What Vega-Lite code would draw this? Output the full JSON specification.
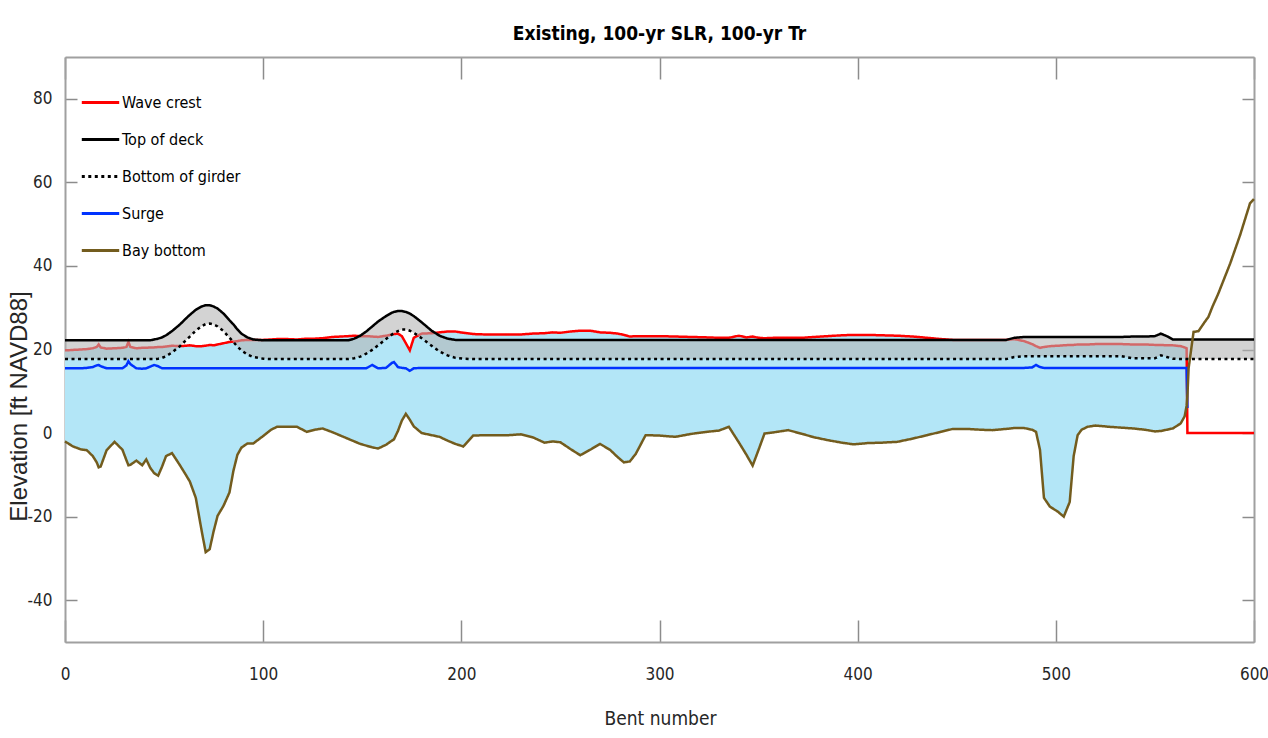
{
  "$schema": "https://vega.github.io/schema/vega-lite/v6.json",
  "width": 1189,
  "height": 585,
  "autosize": {"type": "none"},
  "padding": {"left": 65, "top": 57, "right": 14, "bottom": 96},
  "background": "white",
  "title": {"text": "Existing, 100-yr SLR, 100-yr Tr", "font": "DejaVu Sans Condensed, sans-serif", "fontSize": 19, "fontWeight": "bold", "color": "#000000", "offset": 12, "anchor": "middle"},
  "config": {
    "view": {"stroke": null},
    "axis": {
      "grid": false,
      "domainColor": "#a0a0a0",
      "domainWidth": 2,
      "tickColor": "#8c8c8c",
      "tickWidth": 1.5,
      "labelFont": "DejaVu Sans Condensed, sans-serif",
      "labelFontSize": 17,
      "labelColor": "#262626",
      "labelFlush": false,
      "labelExpr": "'' + datum.value",
      "titleFontWeight": "normal",
      "titleColor": "#262626"
    },
    "axisX": {"tickSize": -22},
    "axisY": {"tickSize": -12},
    "legend": {
      "orient": "none",
      "legendX": 15,
      "legendY": 25,
      "symbolType": "stroke",
      "symbolSize": 1400,
      "symbolStrokeWidth": 3,
      "rowPadding": 8,
      "labelOffset": 1,
      "labelFont": "DejaVu Sans Condensed, sans-serif",
      "labelFontSize": 16,
      "labelColor": "#000000",
      "padding": 0
    }
  },
  "data": {"values": [
    {"bent":0,"wave":19.8,"deck":22.2,"girder":17.7,"surge":15.5,"bay":-2.0},
    {"bent":1,"wave":19.8,"deck":22.2,"girder":17.7,"surge":15.5,"bay":-2.3},
    {"bent":4,"wave":19.9,"deck":22.2,"girder":17.7,"surge":15.5,"bay":-3.2},
    {"bent":8,"wave":20.0,"deck":22.2,"girder":17.7,"surge":15.5,"bay":-3.9},
    {"bent":11,"wave":20.1,"deck":22.2,"girder":17.7,"surge":15.6,"bay":-4.1},
    {"bent":14,"wave":20.3,"deck":22.2,"girder":17.7,"surge":15.8,"bay":-5.5},
    {"bent":16,"wave":20.6,"deck":22.2,"girder":17.7,"surge":16.2,"bay":-7.0},
    {"bent":17,"wave":21.2,"deck":22.2,"girder":17.7,"surge":16.3,"bay":-8.2},
    {"bent":18,"wave":20.5,"deck":22.2,"girder":17.7,"surge":16.0,"bay":-8.0},
    {"bent":21,"wave":20.2,"deck":22.2,"girder":17.7,"surge":15.5,"bay":-4.1},
    {"bent":25,"wave":20.3,"deck":22.2,"girder":17.7,"surge":15.5,"bay":-2.1},
    {"bent":29,"wave":20.4,"deck":22.2,"girder":17.7,"surge":15.5,"bay":-4.0},
    {"bent":31,"wave":20.6,"deck":22.2,"girder":17.7,"surge":16.2,"bay":-6.5},
    {"bent":32,"wave":21.8,"deck":22.2,"girder":17.7,"surge":17.2,"bay":-7.7},
    {"bent":33,"wave":20.6,"deck":22.2,"girder":17.7,"surge":16.5,"bay":-7.6},
    {"bent":36,"wave":20.3,"deck":22.2,"girder":17.7,"surge":15.5,"bay":-6.6},
    {"bent":39,"wave":20.4,"deck":22.2,"girder":17.7,"surge":15.4,"bay":-7.7},
    {"bent":41,"wave":20.4,"deck":22.2,"girder":17.7,"surge":15.5,"bay":-6.3},
    {"bent":43,"wave":20.5,"deck":22.2,"girder":17.7,"surge":15.9,"bay":-8.3},
    {"bent":45,"wave":20.5,"deck":22.4,"girder":17.7,"surge":16.3,"bay":-9.6},
    {"bent":47,"wave":20.6,"deck":22.6,"girder":17.8,"surge":16.0,"bay":-10.2},
    {"bent":49,"wave":20.6,"deck":22.9,"girder":18.0,"surge":15.5,"bay":-8.0},
    {"bent":51,"wave":20.7,"deck":23.4,"girder":18.4,"surge":15.5,"bay":-5.5},
    {"bent":54,"wave":20.9,"deck":24.4,"girder":19.3,"surge":15.5,"bay":-4.8},
    {"bent":58,"wave":20.8,"deck":26.0,"girder":20.8,"surge":15.5,"bay":-7.7},
    {"bent":61,"wave":20.9,"deck":27.4,"girder":22.2,"surge":15.5,"bay":-10.0},
    {"bent":63,"wave":21.0,"deck":28.3,"girder":23.1,"surge":15.5,"bay":-11.6},
    {"bent":66,"wave":20.8,"deck":29.5,"girder":24.5,"surge":15.5,"bay":-15.5},
    {"bent":69,"wave":20.8,"deck":30.3,"girder":25.6,"surge":15.5,"bay":-23.5},
    {"bent":71,"wave":20.9,"deck":30.6,"girder":26.1,"surge":15.5,"bay":-28.5},
    {"bent":73,"wave":21.1,"deck":30.6,"girder":26.2,"surge":15.5,"bay":-27.8},
    {"bent":75,"wave":21.0,"deck":30.3,"girder":26.0,"surge":15.5,"bay":-23.5},
    {"bent":77,"wave":21.2,"deck":29.8,"girder":25.5,"surge":15.5,"bay":-19.8},
    {"bent":80,"wave":21.5,"deck":28.6,"girder":24.4,"surge":15.5,"bay":-17.4},
    {"bent":83,"wave":21.8,"deck":27.0,"girder":22.8,"surge":15.5,"bay":-14.2},
    {"bent":85,"wave":21.9,"deck":26.0,"girder":21.8,"surge":15.5,"bay":-9.0},
    {"bent":87,"wave":22.0,"deck":24.8,"girder":20.7,"surge":15.5,"bay":-5.2},
    {"bent":89,"wave":22.2,"deck":23.8,"girder":19.8,"surge":15.5,"bay":-3.5},
    {"bent":92,"wave":22.3,"deck":22.9,"girder":18.8,"surge":15.5,"bay":-2.5},
    {"bent":95,"wave":22.3,"deck":22.4,"girder":18.2,"surge":15.5,"bay":-2.5},
    {"bent":100,"wave":22.3,"deck":22.2,"girder":17.8,"surge":15.5,"bay":-0.7},
    {"bent":104,"wave":22.4,"deck":22.2,"girder":17.7,"surge":15.5,"bay":0.8},
    {"bent":107,"wave":22.5,"deck":22.2,"girder":17.7,"surge":15.5,"bay":1.5},
    {"bent":112,"wave":22.5,"deck":22.2,"girder":17.7,"surge":15.5,"bay":1.5},
    {"bent":117,"wave":22.4,"deck":22.2,"girder":17.7,"surge":15.5,"bay":1.5},
    {"bent":122,"wave":22.6,"deck":22.2,"girder":17.7,"surge":15.5,"bay":0.3},
    {"bent":126,"wave":22.6,"deck":22.2,"girder":17.7,"surge":15.5,"bay":0.8},
    {"bent":130,"wave":22.7,"deck":22.2,"girder":17.7,"surge":15.5,"bay":1.1},
    {"bent":135,"wave":23.0,"deck":22.2,"girder":17.7,"surge":15.5,"bay":0.2},
    {"bent":139,"wave":23.1,"deck":22.2,"girder":17.7,"surge":15.5,"bay":-0.6},
    {"bent":143,"wave":23.2,"deck":22.2,"girder":17.7,"surge":15.5,"bay":-1.4},
    {"bent":146,"wave":23.3,"deck":22.6,"girder":17.9,"surge":15.5,"bay":-2.0},
    {"bent":149,"wave":23.2,"deck":23.3,"girder":18.3,"surge":15.5,"bay":-2.6},
    {"bent":152,"wave":23.2,"deck":24.3,"girder":19.0,"surge":15.5,"bay":-3.0},
    {"bent":155,"wave":23.1,"deck":25.5,"girder":19.9,"surge":16.3,"bay":-3.4},
    {"bent":158,"wave":23.0,"deck":26.7,"girder":21.0,"surge":15.5,"bay":-3.7},
    {"bent":162,"wave":23.3,"deck":28.0,"girder":22.5,"surge":15.6,"bay":-2.8},
    {"bent":165,"wave":23.6,"deck":28.8,"girder":23.6,"surge":16.8,"bay":-1.8},
    {"bent":166,"wave":23.7,"deck":29.0,"girder":23.9,"surge":17.0,"bay":-1.5},
    {"bent":168,"wave":23.8,"deck":29.2,"girder":24.4,"surge":15.8,"bay":0.5},
    {"bent":170,"wave":23.2,"deck":29.2,"girder":24.8,"surge":15.6,"bay":3.0},
    {"bent":172,"wave":21.5,"deck":29.0,"girder":24.8,"surge":15.5,"bay":4.6},
    {"bent":174,"wave":19.8,"deck":28.6,"girder":24.5,"surge":14.9,"bay":3.2},
    {"bent":176,"wave":22.8,"deck":28.0,"girder":24.0,"surge":15.5,"bay":1.6},
    {"bent":180,"wave":23.8,"deck":26.5,"girder":22.7,"surge":15.6,"bay":0.0},
    {"bent":185,"wave":23.9,"deck":24.5,"girder":20.9,"surge":15.6,"bay":-0.5},
    {"bent":189,"wave":24.1,"deck":23.3,"girder":19.5,"surge":15.6,"bay":-0.9},
    {"bent":193,"wave":24.3,"deck":22.6,"girder":18.6,"surge":15.6,"bay":-1.8},
    {"bent":197,"wave":24.3,"deck":22.3,"girder":18.0,"surge":15.6,"bay":-2.6},
    {"bent":201,"wave":24.0,"deck":22.3,"girder":17.8,"surge":15.6,"bay":-3.2},
    {"bent":206,"wave":23.7,"deck":22.3,"girder":17.7,"surge":15.6,"bay":-0.6},
    {"bent":212,"wave":23.6,"deck":22.3,"girder":17.7,"surge":15.6,"bay":-0.5},
    {"bent":218,"wave":23.6,"deck":22.3,"girder":17.7,"surge":15.6,"bay":-0.5},
    {"bent":224,"wave":23.6,"deck":22.3,"girder":17.7,"surge":15.6,"bay":-0.5},
    {"bent":230,"wave":23.6,"deck":22.3,"girder":17.7,"surge":15.6,"bay":-0.3},
    {"bent":236,"wave":23.8,"deck":22.3,"girder":17.7,"surge":15.6,"bay":-1.0},
    {"bent":242,"wave":23.9,"deck":22.3,"girder":17.7,"surge":15.6,"bay":-2.3},
    {"bent":246,"wave":24.1,"deck":22.3,"girder":17.7,"surge":15.6,"bay":-2.0},
    {"bent":250,"wave":24.0,"deck":22.3,"girder":17.7,"surge":15.6,"bay":-2.2},
    {"bent":255,"wave":24.3,"deck":22.3,"girder":17.7,"surge":15.6,"bay":-3.8},
    {"bent":260,"wave":24.5,"deck":22.3,"girder":17.7,"surge":15.6,"bay":-5.3},
    {"bent":265,"wave":24.5,"deck":22.3,"girder":17.7,"surge":15.6,"bay":-4.0},
    {"bent":270,"wave":24.1,"deck":22.3,"girder":17.7,"surge":15.6,"bay":-2.6},
    {"bent":275,"wave":24.0,"deck":22.3,"girder":17.7,"surge":15.6,"bay":-4.0},
    {"bent":279,"wave":23.8,"deck":22.3,"girder":17.7,"surge":15.6,"bay":-5.8},
    {"bent":282,"wave":23.5,"deck":22.3,"girder":17.7,"surge":15.6,"bay":-7.0},
    {"bent":285,"wave":23.1,"deck":22.3,"girder":17.7,"surge":15.6,"bay":-6.8},
    {"bent":288,"wave":23.2,"deck":22.3,"girder":17.7,"surge":15.6,"bay":-5.0},
    {"bent":293,"wave":23.2,"deck":22.3,"girder":17.7,"surge":15.6,"bay":-0.5},
    {"bent":300,"wave":23.2,"deck":22.3,"girder":17.7,"surge":15.6,"bay":-0.6},
    {"bent":308,"wave":23.1,"deck":22.3,"girder":17.7,"surge":15.6,"bay":-0.9},
    {"bent":316,"wave":23.0,"deck":22.3,"girder":17.7,"surge":15.6,"bay":-0.2},
    {"bent":324,"wave":22.9,"deck":22.3,"girder":17.7,"surge":15.6,"bay":0.3},
    {"bent":330,"wave":22.8,"deck":22.3,"girder":17.7,"surge":15.6,"bay":0.6},
    {"bent":335,"wave":22.8,"deck":22.3,"girder":17.7,"surge":15.6,"bay":1.5},
    {"bent":340,"wave":23.3,"deck":22.3,"girder":17.7,"surge":15.6,"bay":-2.2},
    {"bent":344,"wave":22.9,"deck":22.3,"girder":17.7,"surge":15.6,"bay":-5.3},
    {"bent":347,"wave":23.1,"deck":22.3,"girder":17.7,"surge":15.6,"bay":-7.8},
    {"bent":350,"wave":22.8,"deck":22.3,"girder":17.7,"surge":15.6,"bay":-4.0},
    {"bent":353,"wave":22.7,"deck":22.3,"girder":17.7,"surge":15.6,"bay":-0.1},
    {"bent":358,"wave":22.8,"deck":22.3,"girder":17.7,"surge":15.6,"bay":0.2},
    {"bent":365,"wave":22.8,"deck":22.3,"girder":17.7,"surge":15.6,"bay":0.7},
    {"bent":372,"wave":22.8,"deck":22.3,"girder":17.7,"surge":15.6,"bay":-0.2},
    {"bent":378,"wave":23.0,"deck":22.3,"girder":17.7,"surge":15.6,"bay":-1.0},
    {"bent":385,"wave":23.2,"deck":22.3,"girder":17.7,"surge":15.6,"bay":-1.7},
    {"bent":392,"wave":23.4,"deck":22.3,"girder":17.7,"surge":15.6,"bay":-2.3},
    {"bent":398,"wave":23.5,"deck":22.3,"girder":17.7,"surge":15.6,"bay":-2.7},
    {"bent":405,"wave":23.5,"deck":22.3,"girder":17.7,"surge":15.6,"bay":-2.4},
    {"bent":412,"wave":23.4,"deck":22.3,"girder":17.7,"surge":15.6,"bay":-2.3},
    {"bent":420,"wave":23.3,"deck":22.3,"girder":17.7,"surge":15.6,"bay":-2.1},
    {"bent":428,"wave":23.1,"deck":22.3,"girder":17.7,"surge":15.6,"bay":-1.3},
    {"bent":435,"wave":22.8,"deck":22.3,"girder":17.7,"surge":15.6,"bay":-0.5},
    {"bent":442,"wave":22.5,"deck":22.3,"girder":17.7,"surge":15.6,"bay":0.3},
    {"bent":448,"wave":22.3,"deck":22.3,"girder":17.7,"surge":15.6,"bay":1.0},
    {"bent":455,"wave":22.3,"deck":22.3,"girder":17.7,"surge":15.6,"bay":1.0},
    {"bent":462,"wave":22.3,"deck":22.3,"girder":17.7,"surge":15.6,"bay":0.8},
    {"bent":468,"wave":22.3,"deck":22.3,"girder":17.7,"surge":15.6,"bay":0.7},
    {"bent":475,"wave":22.3,"deck":22.3,"girder":17.7,"surge":15.6,"bay":1.0},
    {"bent":479,"wave":22.5,"deck":22.8,"girder":18.2,"surge":15.6,"bay":1.2},
    {"bent":484,"wave":22.0,"deck":23.0,"girder":18.4,"surge":15.6,"bay":1.2},
    {"bent":488,"wave":21.3,"deck":23.0,"girder":18.4,"surge":15.7,"bay":0.8},
    {"bent":490,"wave":20.8,"deck":23.0,"girder":18.4,"surge":16.3,"bay":0.3},
    {"bent":492,"wave":20.4,"deck":23.0,"girder":18.4,"surge":15.8,"bay":-4.0},
    {"bent":494,"wave":20.6,"deck":23.0,"girder":18.4,"surge":15.6,"bay":-15.5},
    {"bent":497,"wave":20.8,"deck":23.0,"girder":18.4,"surge":15.6,"bay":-17.6},
    {"bent":501,"wave":20.9,"deck":23.0,"girder":18.4,"surge":15.6,"bay":-18.8},
    {"bent":504,"wave":21.0,"deck":23.0,"girder":18.4,"surge":15.6,"bay":-20.0},
    {"bent":507,"wave":21.1,"deck":23.0,"girder":18.4,"surge":15.6,"bay":-16.5},
    {"bent":509,"wave":21.1,"deck":23.0,"girder":18.4,"surge":15.6,"bay":-5.5},
    {"bent":511,"wave":21.2,"deck":23.0,"girder":18.4,"surge":15.6,"bay":-0.5},
    {"bent":513,"wave":21.2,"deck":23.0,"girder":18.4,"surge":15.6,"bay":0.8},
    {"bent":516,"wave":21.2,"deck":23.0,"girder":18.4,"surge":15.6,"bay":1.5},
    {"bent":520,"wave":21.3,"deck":23.0,"girder":18.4,"surge":15.6,"bay":1.8},
    {"bent":527,"wave":21.3,"deck":23.0,"girder":18.4,"surge":15.6,"bay":1.5},
    {"bent":533,"wave":21.3,"deck":23.0,"girder":18.4,"surge":15.6,"bay":1.3},
    {"bent":539,"wave":21.2,"deck":23.1,"girder":17.9,"surge":15.6,"bay":1.1},
    {"bent":545,"wave":21.2,"deck":23.1,"girder":17.9,"surge":15.6,"bay":0.8},
    {"bent":550,"wave":21.1,"deck":23.2,"girder":17.9,"surge":15.6,"bay":0.4},
    {"bent":553,"wave":21.1,"deck":23.8,"girder":18.6,"surge":15.6,"bay":0.5},
    {"bent":556,"wave":21.0,"deck":23.2,"girder":18.2,"surge":15.6,"bay":0.8},
    {"bent":559,"wave":21.0,"deck":22.4,"girder":17.8,"surge":15.6,"bay":1.1},
    {"bent":563,"wave":20.8,"deck":22.4,"girder":17.7,"surge":15.6,"bay":2.3},
    {"bent":565,"wave":20.5,"deck":22.4,"girder":17.7,"surge":15.6,"bay":4.0},
    {"bent":566,"wave":20.3,"deck":22.4,"girder":17.7,"surge":15.6,"bay":6.5},
    {"bent":566.4,"wave":0,"deck":22.4,"girder":17.7,"surge":6.0,"bay":9.0},
    {"bent":567,"wave":0,"deck":22.4,"girder":17.7,"surge":null,"bay":15.5},
    {"bent":569.5,"wave":0,"deck":22.4,"girder":17.7,"surge":null,"bay":24.2},
    {"bent":572,"wave":0,"deck":22.4,"girder":17.7,"surge":null,"bay":24.4},
    {"bent":575,"wave":0,"deck":22.4,"girder":17.7,"surge":null,"bay":26.5},
    {"bent":577,"wave":0,"deck":22.4,"girder":17.7,"surge":null,"bay":27.8},
    {"bent":579,"wave":0,"deck":22.4,"girder":17.7,"surge":null,"bay":30.2},
    {"bent":582,"wave":0,"deck":22.4,"girder":17.7,"surge":null,"bay":33.4},
    {"bent":588,"wave":0,"deck":22.4,"girder":17.7,"surge":null,"bay":40.6},
    {"bent":593,"wave":0,"deck":22.4,"girder":17.7,"surge":null,"bay":47.4},
    {"bent":598,"wave":0,"deck":22.4,"girder":17.7,"surge":null,"bay":55.0},
    {"bent":600,"wave":0,"deck":22.4,"girder":17.7,"surge":null,"bay":56.0}
  ]},
  "layer": [
    {
      "transform": [{"filter": "datum.bent <= 566"}],
      "mark": {"type": "area", "color": "#b3e6f7", "opacity": 1},
      "encoding": {
        "x": {"field": "bent", "type": "quantitative", "scale": {"domain": [0, 600], "nice": false, "zero": false},
              "axis": {"values": [0, 100, 200, 300, 400, 500, 600], "title": "Bent number", "labelPadding": 46,
                       "titleFont": "DejaVu Sans Condensed, sans-serif", "titleFontSize": 19, "titleX": 595, "titleY": 76, "titleBaseline": "middle"}},
        "y": {"field": "bay", "type": "quantitative", "scale": {"domain": [-50, 90], "nice": false, "zero": false},
              "axis": {"values": [-40, -20, 0, 20, 40, 60, 80], "title": "Elevation [ft NAVD88]", "labelPadding": 25,
                       "titleFont": "Liberation Sans, Arial, sans-serif", "titleFontSize": 24, "titleX": -46, "titleY": 349, "titleBaseline": "middle"}},
        "y2": {"field": "wave"}
      }
    },
    {
      "transform": [{"fold": ["wave"], "as": ["series", "elev"]}],
      "mark": {"type": "line", "strokeWidth": 2.5},
      "encoding": {
        "x": {"field": "bent", "type": "quantitative", "axis": null},
        "y": {"field": "elev", "type": "quantitative", "axis": null},
        "color": {"field": "series", "type": "nominal",
                  "scale": {"domain": ["wave", "deck", "girder", "surge", "bay"], "range": ["#ff0000", "#000000", "#000000", "#0033ff", "#735c1e"]},
                  "legend": {"title": null, "labelExpr": "datum.label == 'wave' ? 'Wave crest' : datum.label == 'deck' ? 'Top of deck' : datum.label == 'girder' ? 'Bottom of girder' : datum.label == 'surge' ? 'Surge' : 'Bay bottom'"}},
        "strokeDash": {"field": "series", "type": "nominal",
                       "scale": {"domain": ["wave", "deck", "girder", "surge", "bay"], "range": [[1, 0], [1, 0], [3, 3.5], [1, 0], [1, 0]]},
                       "legend": {"title": null, "labelExpr": "datum.label == 'wave' ? 'Wave crest' : datum.label == 'deck' ? 'Top of deck' : datum.label == 'girder' ? 'Bottom of girder' : datum.label == 'surge' ? 'Surge' : 'Bay bottom'"}}
      }
    },
    {
      "mark": {"type": "area", "color": "#b3b3b3", "opacity": 0.58},
      "encoding": {
        "x": {"field": "bent", "type": "quantitative", "axis": null},
        "y": {"field": "girder", "type": "quantitative", "axis": null},
        "y2": {"field": "deck"}
      }
    },
    {
      "transform": [{"fold": ["deck", "girder", "surge", "bay"], "as": ["series", "elev"]}],
      "mark": {"type": "line", "strokeWidth": 2.5},
      "encoding": {
        "x": {"field": "bent", "type": "quantitative", "axis": null},
        "y": {"field": "elev", "type": "quantitative", "axis": null},
        "color": {"field": "series", "type": "nominal",
                  "scale": {"domain": ["wave", "deck", "girder", "surge", "bay"], "range": ["#ff0000", "#000000", "#000000", "#0033ff", "#735c1e"]},
                  "legend": {"title": null, "labelExpr": "datum.label == 'wave' ? 'Wave crest' : datum.label == 'deck' ? 'Top of deck' : datum.label == 'girder' ? 'Bottom of girder' : datum.label == 'surge' ? 'Surge' : 'Bay bottom'"}},
        "strokeDash": {"field": "series", "type": "nominal",
                       "scale": {"domain": ["wave", "deck", "girder", "surge", "bay"], "range": [[1, 0], [1, 0], [3, 3.5], [1, 0], [1, 0]]},
                       "legend": {"title": null, "labelExpr": "datum.label == 'wave' ? 'Wave crest' : datum.label == 'deck' ? 'Top of deck' : datum.label == 'girder' ? 'Bottom of girder' : datum.label == 'surge' ? 'Surge' : 'Bay bottom'"}}
      }
    },
    {
      "mark": {"type": "point", "opacity": 0},
      "encoding": {
        "x": {"field": "bent", "type": "quantitative", "axis": {"orient": "top", "values": [0, 100, 200, 300, 400, 500, 600], "labels": false, "title": null}},
        "y": {"field": "bay", "type": "quantitative", "axis": {"orient": "right", "values": [-40, -20, 0, 20, 40, 60, 80], "labels": false, "title": null}}
      }
    }
  ],
  "resolve": {"axis": {"x": "independent", "y": "independent"}}
}
